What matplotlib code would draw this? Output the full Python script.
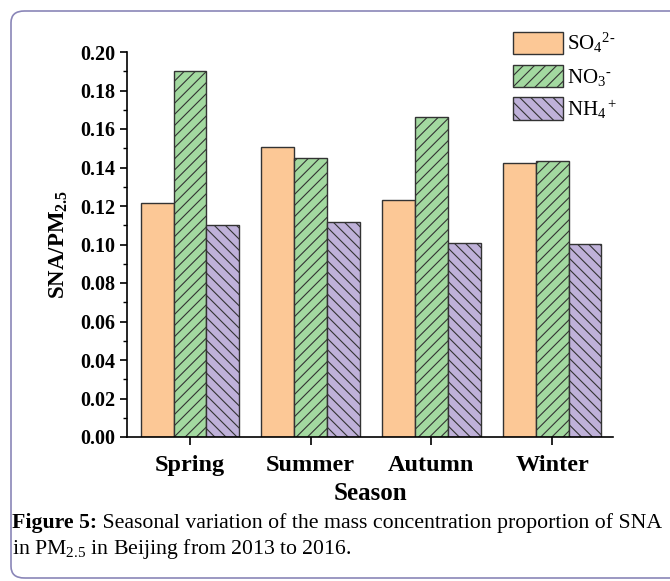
import matplotlib
matplotlib.use("Agg")
import matplotlib.pyplot as plt
import numpy as np
from matplotlib.patches import FancyBboxPatch
from matplotlib.ticker import MultipleLocator

seasons = ["Spring", "Summer", "Autumn", "Winter"]
so4 = [0.1216, 0.1506, 0.1231, 0.1423]
no3 = [0.1903, 0.1449, 0.1662, 0.1434]
nh4 = [0.1102, 0.1117, 0.1008, 0.1003]
labels = [r"SO$_4{}^{2\text{-}}$", r"NO$_3{}^{\text{-}}$", r"NH$_4{}^+$"]

plt.rcParams["font.family"] = ["Liberation Serif", "DejaVu Serif"]
plt.rcParams["mathtext.fontset"] = "custom"
plt.rcParams["mathtext.rm"] = "Liberation Serif"
plt.rcParams["mathtext.it"] = "Liberation Serif:italic"
plt.rcParams["mathtext.bf"] = "Liberation Serif:bold"
plt.rcParams["hatch.linewidth"] = 0.8

fig = plt.figure(figsize=(6.7, 5.81), dpi=100)

# rounded frame around the figure
frame = FancyBboxPatch((11 / 670, 1 - 578 / 581), 700 / 670, 567 / 581,
                       boxstyle="round,pad=0,rounding_size=0.02",
                       transform=fig.transFigure, fill=False,
                       edgecolor="#8a86b8", linewidth=1.2)
fig.patches.append(frame)

ax = fig.add_axes([127 / 670, 1 - 437 / 581, (613 - 127) / 670, (437 - 52) / 581])

x = np.arange(len(seasons))
w = 0.273
ax.bar(x - w, so4, w, color="#fcc896", edgecolor="#333333", linewidth=1.0, label=labels[0])
ax.bar(x, no3, w, color="#a3d9a0", edgecolor="#333333", linewidth=1.0, hatch="///", label=labels[1])
ax.bar(x + w, nh4, w, color="#bfb1d9", edgecolor="#333333", linewidth=1.0, hatch="\\\\\\", label=labels[2])

ax.set_xlim(-0.522, 3.505)
ax.set_ylim(0, 0.2)
ax.set_xticks(x)
ax.set_xticklabels(seasons, fontsize=17.5, fontweight="bold")
ax.yaxis.set_minor_locator(MultipleLocator(0.01))
ax.set_yticks(np.arange(0, 0.201, 0.02))
ax.set_yticklabels([f"{v:.2f}" for v in np.arange(0, 0.201, 0.02)], fontsize=14.5, fontweight="bold")
ax.tick_params(axis="y", which="major", direction="out", length=5, width=1.2)
ax.tick_params(axis="y", which="minor", direction="out", length=3, width=1.0)
ax.tick_params(axis="x", direction="out", length=6, width=1.2, pad=7)
for s in ["top", "right"]:
    ax.spines[s].set_visible(False)
for s in ["left", "bottom"]:
    ax.spines[s].set_linewidth(1.2)

ax.set_xlabel("Season", fontsize=18, fontweight="bold", labelpad=4)
ax.set_ylabel(r"SNA/PM$_{\mathbf{2.5}}$", fontsize=16.5, fontweight="bold", labelpad=7)

ax.legend(loc="upper left", bbox_to_anchor=(513 / 670, 1 - 31 / 581),
          bbox_transform=fig.transFigure, frameon=False, fontsize=15,
          borderpad=0, borderaxespad=0, handlelength=2.4, handleheight=1.3,
          handletextpad=0.2, labelspacing=0.45)

# caption
t = fig.text(12 / 670, 1 - 528 / 581, "Figure 5:", fontsize=15.7, fontweight="bold",
             va="baseline")
ax.annotate(" Seasonal variation of the mass concentration proportion of SNA",
            xy=(1, 0), xycoords=t, fontsize=15.7, va="bottom", annotation_clip=False)
fig.text(12 / 670, 1 - 554 / 581, r"in PM$_{2.5}$ in Beijing from 2013 to 2016.",
         fontsize=15.7, va="baseline")

fig.savefig("out.png", dpi=100)
